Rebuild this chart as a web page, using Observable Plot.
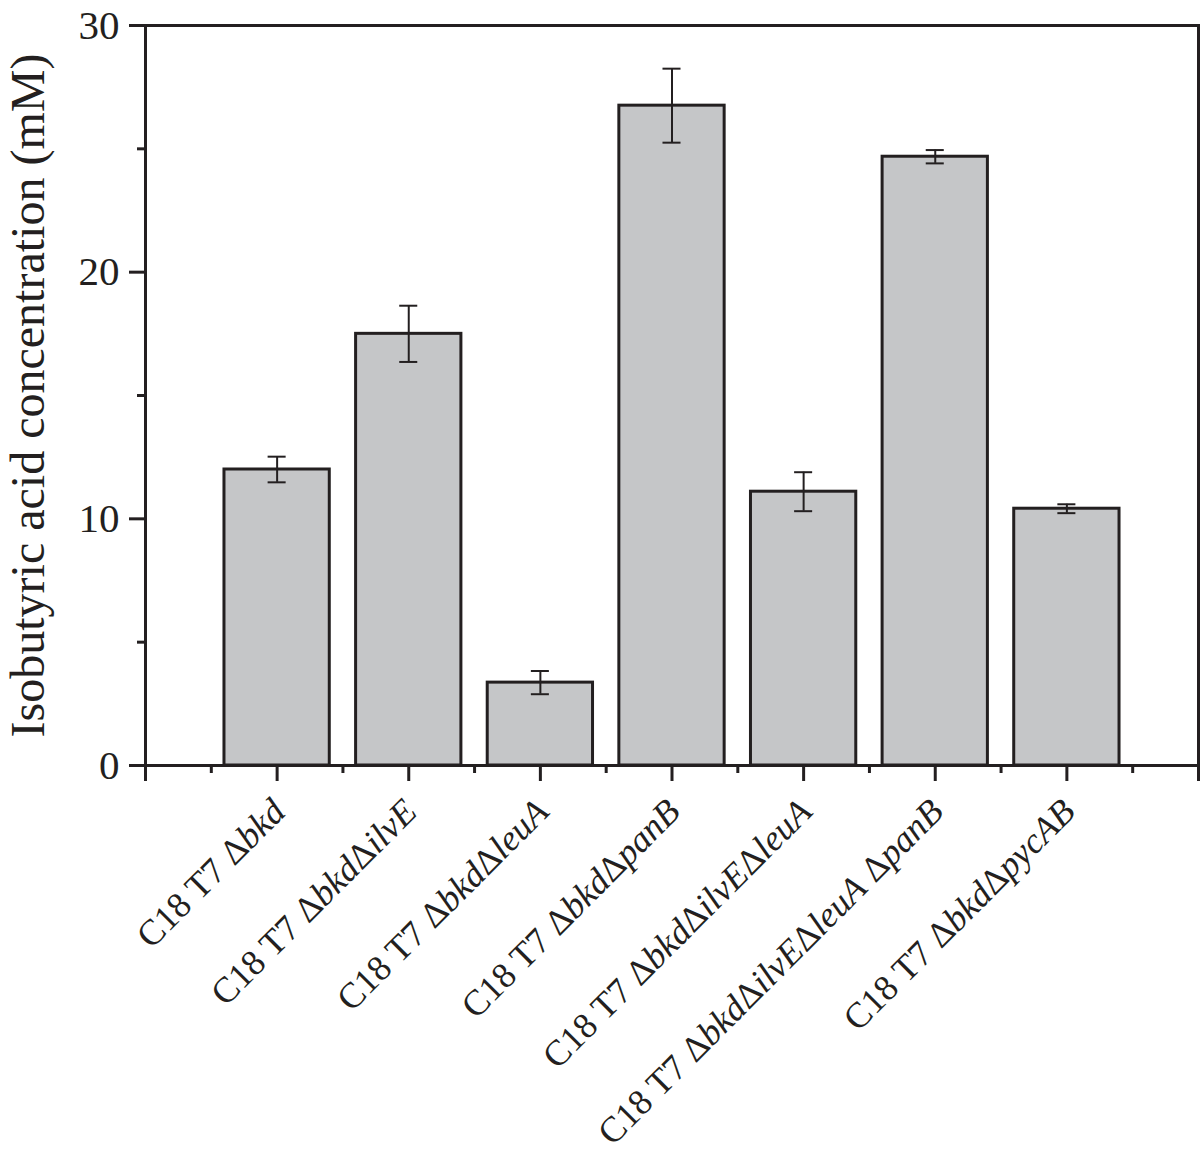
<!DOCTYPE html>
<html>
<head>
<meta charset="utf-8">
<script src="https://cdn.jsdelivr.net/npm/d3@7"></script>
<script src="https://cdn.jsdelivr.net/npm/@observablehq/plot@0.6"></script>
<style>
  html, body { margin: 0; padding: 0; background: #fff; }
  svg, svg text, svg tspan { font-family: "Liberation Serif", "Times New Roman", Times, serif !important; }
</style>
</head>
<body>
<div id="chart"></div>
<script>
// Strain labels: segments [text, italic?]
const strains = [
  [["C18 T7 Δ", false], ["bkd", true]],
  [["C18 T7 Δ", false], ["bkd", true], ["Δ", false], ["ilvE", true]],
  [["C18 T7 Δ", false], ["bkd", true], ["Δ", false], ["leuA", true]],
  [["C18 T7 Δ", false], ["bkd", true], ["Δ", false], ["panB", true]],
  [["C18 T7 Δ", false], ["bkd", true], ["Δ", false], ["ilvE", true], ["Δ", false], ["leuA", true]],
  [["C18 T7 Δ", false], ["bkd", true], ["Δ", false], ["ilvE", true], ["Δ", false], ["leuA", true], [" Δ", false], ["panB", true]],
  [["C18 T7 Δ", false], ["bkd", true], ["Δ", false], ["pycAB", true]]
];
const positions = [1, 2, 3, 4, 5, 6, 7];
const concentration = [12.0, 17.5, 3.36, 26.75, 11.1, 24.68, 10.41];
const errors = [0.52, 1.14, 0.47, 1.5, 0.79, 0.27, 0.18];
const yMajorTicks = [0, 10, 20, 30];
const yMinorTicks = [5, 15, 25];
const xMajorTicks = [0, 1, 2, 3, 4, 5, 6, 7, 8];
const xMinorTicks = [0.5, 1.5, 2.5, 3.5, 4.5, 5.5, 6.5, 7.5];
const yTitle = "Isobutyric acid concentration (mM)";

const data = positions.map((p, i) => ({
  pos: p,
  idx: i,
  label: strains[i].map(s => s[0]).join(""),
  value: concentration[i],
  lo: concentration[i] - errors[i],
  hi: concentration[i] + errors[i]
}));

const ink = "#231f20";
const barWidth = 0.8;
const capWidth = 0.137;

const chart = Plot.plot({
  width: 1200,
  height: 1153,
  marginLeft: 145,
  marginRight: 2,
  marginTop: 25,
  marginBottom: 388,
  style: { color: ink, background: "#fff" },
  x: { domain: [0, 8], axis: null },
  y: { domain: [0, 30], axis: null },
  marks: [
    Plot.rectY(data, {
      x1: d => d.pos - barWidth / 2,
      x2: d => d.pos + barWidth / 2,
      y1: 0,
      y2: "value",
      fill: "#c5c6c8",
      stroke: ink,
      strokeWidth: 3
    }),
    Plot.ruleX(data, { x: "pos", y1: "lo", y2: "hi", stroke: ink, strokeWidth: 2 }),
    Plot.ruleY(data, { y: "hi", x1: d => d.pos - capWidth / 2, x2: d => d.pos + capWidth / 2, stroke: ink, strokeWidth: 2 }),
    Plot.ruleY(data, { y: "lo", x1: d => d.pos - capWidth / 2, x2: d => d.pos + capWidth / 2, stroke: ink, strokeWidth: 2 }),
    Plot.frame({ stroke: ink, strokeWidth: 3 }),
    // Y axis
    Plot.axisY({ ticks: yMajorTicks, tickSize: 16, tickPadding: 10, strokeWidth: 3, stroke: ink, fill: ink, fontSize: 41, label: null, tickFormat: d => String(d) }),
    Plot.axisY({ ticks: yMinorTicks, tickSize: 8, strokeWidth: 3, stroke: ink, label: null, tickFormat: () => "" }),
    // X axis ticks
    Plot.axisX({ ticks: xMajorTicks, tickSize: 16, strokeWidth: 3, stroke: ink, label: null, tickFormat: () => "" }),
    Plot.axisX({ ticks: xMinorTicks, tickSize: 8, strokeWidth: 3, stroke: ink, label: null, tickFormat: () => "" }),
    // X labels (rotated)
    Plot.text(data, {
      x: "pos",
      y: () => 0,
      text: "label",
      rotate: -45,
      textAnchor: "end",
      lineAnchor: "middle",
      dx: 2,
      dy: 40,
      fontSize: 36,
      fill: ink,
      className: "xlab"
    }),
    // Y title
    Plot.text([yTitle], {
      frameAnchor: "left",
      text: d => d,
      rotate: -90,
      dx: -117,
      textAnchor: "middle",
      lineAnchor: "middle",
      fontSize: 48,
      fill: ink
    })
  ]
});

// rich text (italic gene names) for x labels
d3.select(chart).selectAll("g.xlab text").each(function(i) {
  const el = d3.select(this);
  const segs = strains[i];
  el.text(null);
  segs.forEach(([t, it]) => {
    el.append("tspan").attr("font-style", it ? "italic" : "normal").text(t);
  });
});

document.getElementById("chart").appendChild(chart);
</script>
</body>
</html>
